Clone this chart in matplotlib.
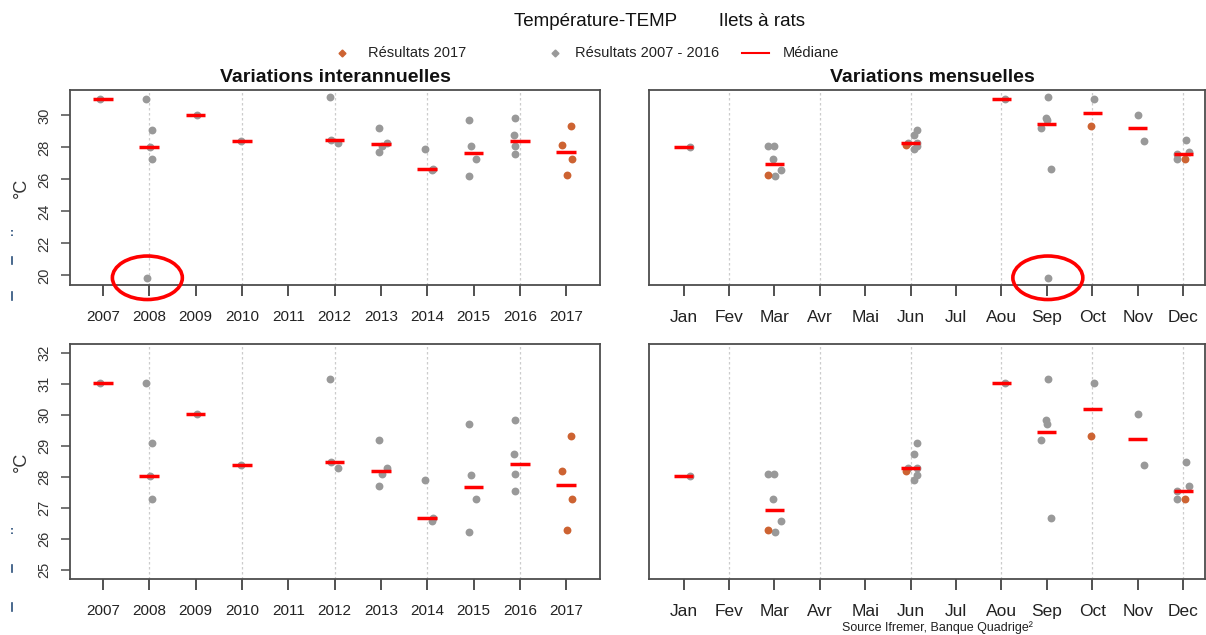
import matplotlib
matplotlib.use("Agg")
import matplotlib.pyplot as plt
from matplotlib.lines import Line2D
from matplotlib.patches import Ellipse
import numpy as np

plt.rcParams['font.family'] = ['Liberation Sans', 'DejaVu Sans']

# one value per sample: year, month (1-12), temperature
years = [2007, 2008, 2008, 2008, 2008, 2008, 2009, 2010, 2012, 2012, 2012,
         2013, 2013, 2013, 2013, 2014, 2014, 2014, 2015, 2015, 2015, 2015,
         2016, 2016, 2016, 2016, 2017, 2017, 2017, 2017]
months = [8, 10, 6, 1, 3, 9, 11, 11, 9, 12, 6,
          9, 12, 6, 3, 6, 9, 3, 9, 6, 12, 3,
          9, 6, 3, 12, 10, 6, 12, 3]
temps = [31.02, 31.03, 29.09, 28.02, 27.29, 19.85, 30.02, 28.40, 31.14, 28.48, 28.28,
         29.19, 27.70, 28.29, 28.11, 27.90, 26.67, 26.59, 29.70, 28.07, 27.29, 26.24,
         29.84, 28.75, 28.11, 27.56, 29.32, 28.18, 27.29, 26.29]
# horizontal jitter
year_jitter = [-0.07, -0.08, 0.05, 0.01, 0.05, -0.04, 0.04, -0.02, -0.09, -0.08, 0.07,
               -0.04, -0.04, 0.14, 0.03, -0.04, 0.12, 0.11, -0.09, -0.05, 0.05, -0.09,
               -0.10, -0.12, -0.10, -0.10, 0.10, -0.08, 0.12, 0.02]
month_jitter = [0.07, 0.04, 0.14, 0.14, -0.03, 0.02, 0.0, 0.14, 0.02, 0.07, -0.05,
                -0.14, 0.12, 0.14, -0.13, 0.08, 0.09, 0.14, 0.0, 0.14, -0.14, 0.02,
                -0.03, 0.08, 0.0, -0.14, -0.04, -0.11, 0.03, -0.14]

year_ticks = list(range(2007, 2018))
month_labels = ['Jan', 'Fev', 'Mar', 'Avr', 'Mai', 'Jun', 'Jul', 'Aou', 'Sep', 'Oct', 'Nov', 'Dec']
current_year = 2017

years = np.array(years)
months = np.array(months)
temps = np.array(temps)
year_x = years + np.array(year_jitter)
month_x = months + np.array(month_jitter)
is_cur = years == current_year

ORANGE = '#CD6332'
GREY = '#999999'
FRAME = '#4d4d4d'

fig = plt.figure(figsize=(12.06, 6.35), dpi=100)
W, H = 1206, 635


def add_ax(l, t, r, b):
    return fig.add_axes([l / W, 1 - b / H, (r - l) / W, (b - t) / H])


ax_tl = add_ax(70, 90, 600, 285)
ax_tr = add_ax(649, 90, 1205, 285)
ax_bl = add_ax(70, 344, 600, 579)
ax_br = add_ax(649, 344, 1205, 579)

lo, hi = temps.min(), temps.max()
pad = 0.04 * (hi - lo)
ylim_top = (lo - pad, hi + pad)
ylim_bot = (25 - 0.04 * 7, 32 + 0.04 * 7)


def style(ax, xticks, xlabels, grid_x, xlim, ylim, xsize):
    ax.set_xlim(*xlim)
    ax.set_ylim(*ylim)
    for x in grid_x:
        ax.axvline(x, color='#cccccc', lw=0.9, ls=(0, (2, 2)), zorder=0)
    for s in ax.spines.values():
        s.set_color(FRAME)
        s.set_linewidth(1.3)
    ax.set_xticks(xticks)
    ax.set_xticklabels(xlabels)
    ax.tick_params(axis='x', length=8, width=1.1, color='#222222', pad=10,
                   labelsize=xsize, labelcolor='#222222')
    ax.tick_params(axis='y', length=6.5, width=1.1, color=FRAME, pad=7,
                   labelsize=10.5, labelcolor='#333333', labelrotation=90)


def draw(ax, xs, centers, groups, half):
    ax.scatter(xs[~is_cur], temps[~is_cur], s=32, color=GREY, linewidths=0, zorder=2)
    ax.scatter(xs[is_cur], temps[is_cur], s=32, color=ORANGE, linewidths=0, zorder=3)
    for c in centers:
        sel = groups == c
        if sel.any():
            med = np.median(temps[sel])
            ax.plot([c - half, c + half], [med, med], color='#ff0000', lw=2.5,
                    solid_capstyle='butt', zorder=4)


month_pos = list(range(1, 13))
for ax, ylim in [(ax_tl, ylim_top), (ax_bl, ylim_bot)]:
    style(ax, year_ticks, [str(y) for y in year_ticks], year_ticks[1::2],
          (2006.29, 2017.73), ylim, 11)
    draw(ax, year_x, year_ticks, years, 0.21)
    ax.set_ylabel('°C', fontsize=13, color='#333333')
    ax.yaxis.set_label_coords(-0.076, 0.5)

for ax, ylim in [(ax_tr, ylim_top), (ax_br, ylim_bot)]:
    style(ax, month_pos, month_labels, month_pos[1::2], (0.24, 12.48), ylim, 12.5)
    draw(ax, month_x, month_pos, months, 0.21)
    ax.set_yticks([])

ax_tl.set_yticks([20, 22, 24, 26, 28, 30])
ax_bl.set_yticks([25, 26, 27, 28, 29, 30, 31, 32])
for ax in (ax_tl, ax_bl):
    for lab in ax.get_yticklabels():
        lab.set_va('center')

# red circles around the outlier
out = np.argmin(temps)
ax_tl.add_patch(Ellipse((year_x[out], temps[out]), 1.51, 2.72, fill=False,
                        ec='#ff0000', lw=2.6, clip_on=False, zorder=5))
ax_tr.add_patch(Ellipse((month_x[out], temps[out]), 1.54, 2.72, fill=False,
                        ec='#ff0000', lw=2.6, clip_on=False, zorder=5))

# titles
fig.text(0.5 * (510 + 808) / W, 1 - 22 / H, 'Température-TEMP        Ilets à rats',
         ha='center', va='center', fontsize=13.5, color='#111111')
fig.text(335 / W, 1 - 77 / H, 'Variations interannuelles', ha='center', va='center',
         fontsize=14, fontweight='bold', color='#111111')
fig.text(932 / W, 1 - 77 / H, 'Variations mensuelles', ha='center', va='center',
         fontsize=14, fontweight='bold', color='#111111')

# legend
ly = 1 - 53 / H
fig.add_artist(Line2D([342 / W], [ly], marker='D', ms=3.5, color=ORANGE, lw=0))
fig.text(368 / W, ly, 'Résultats 2017', va='center', fontsize=10.5, color='#222222')
fig.add_artist(Line2D([555 / W], [ly], marker='D', ms=3.5, color=GREY, lw=0))
fig.text(575 / W, ly, 'Résultats 2007 - 2016', va='center', fontsize=10.5, color='#222222')
fig.add_artist(Line2D([742 / W, 769 / W], [ly, ly], color='#ff0000', lw=1.5))
fig.text(783 / W, ly, 'Médiane', va='center', fontsize=10.5, color='#222222')

fig.text(937 / W, 1 - 628 / H, 'Source Ifremer, Banque Quadrige²', ha='center',
         va='center', fontsize=9, color='#222222')

# small stray marks at the far left of the original
for y0, y1, st in [(230, 236, ':'), (257, 264, '-'), (292, 300, '-'),
                   (528, 534, ':'), (565, 572, '-'), (603, 611, '-')]:
    fig.add_artist(Line2D([12 / W, 12 / W], [1 - y0 / H, 1 - y1 / H],
                          color='#2a4f7a', lw=1.2, ls=st))

fig.savefig('out.png', dpi=100)
